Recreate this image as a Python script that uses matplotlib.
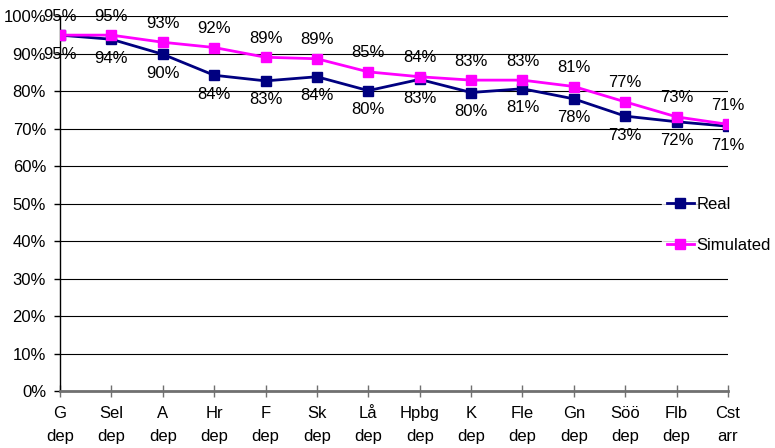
import matplotlib
matplotlib.use("Agg")
import matplotlib.pyplot as plt
from matplotlib.ticker import PercentFormatter

plt.rcParams['font.family'] = ['Liberation Sans', 'DejaVu Sans']

categories = ["G\ndep", "Sel\ndep", "A\ndep", "Hr\ndep", "F\ndep", "Sk\ndep", "Lå\ndep",
              "Hpbg\ndep", "K\ndep", "Fle\ndep", "Gn\ndep", "Söö\ndep", "Flb\ndep", "Cst\narr"]
real = [94.9, 93.8, 89.8, 84.2, 82.7, 83.8, 80.1, 83.1, 79.6, 80.6, 77.9, 73.3, 71.8, 70.6]
simulated = [94.9, 94.9, 93.0, 91.6, 89.0, 88.6, 85.1, 83.8, 82.9, 82.9, 81.2, 77.1, 73.1, 71.1]

FS = 12
PX = 72 / 100  # points per pixel at 100 dpi

fig = plt.figure(figsize=(7.75, 4.48), dpi=100)
ax = fig.add_axes([60 / 775, 57 / 448, 668 / 775, 375 / 448])

x = list(range(len(categories)))
ax.plot(x, real, color="#000080", lw=2, marker="s", ms=7, label="Real", zorder=3)
ax.plot(x, simulated, color="#FF00FF", lw=2, marker="s", ms=7, label="Simulated", zorder=4)

for xi, v in zip(x, real):
    ax.annotate(f"{v:.0f}%", (xi, v), xytext=(0, -19 * PX), textcoords="offset points",
                ha="center", va="center", fontsize=FS, annotation_clip=False)
for xi, v in zip(x, simulated):
    ax.annotate(f"{v:.0f}%", (xi, v), xytext=(0, 19 * PX), textcoords="offset points",
                ha="center", va="center", fontsize=FS, annotation_clip=False)

ax.set_xlim(0, len(categories) - 1)
ax.set_ylim(0, 100)
ax.set_yticks(range(0, 101, 10))
ax.yaxis.set_major_formatter(PercentFormatter(decimals=0))
ax.set_xticks(x)
ax.set_xticklabels(categories, fontsize=FS, linespacing=1.7)
ax.tick_params(axis="y", labelsize=FS, length=4, width=1, color="black", pad=6)
ax.tick_params(axis="x", direction="inout", length=9, width=1, color="#707070", pad=6)
ax.grid(axis="y", color="black", lw=0.8)
ax.set_axisbelow(True)
for s in ("top", "right"):
    ax.spines[s].set_visible(False)
ax.spines["bottom"].set_color("#707070")
ax.spines["bottom"].set_linewidth(2)
ax.spines["left"].set_color("black")
ax.spines["left"].set_linewidth(1)

leg = fig.legend(loc="upper left", bbox_to_anchor=(662 / 775, 1 - 192 / 448),
                 frameon=True, fontsize=FS, handlelength=1.6, handletextpad=0.15,
                 labelspacing=1.55, borderaxespad=0, borderpad=0.3)
leg.get_frame().set_facecolor("white")
leg.get_frame().set_edgecolor("white")

fig.savefig("out.png", dpi=100)
